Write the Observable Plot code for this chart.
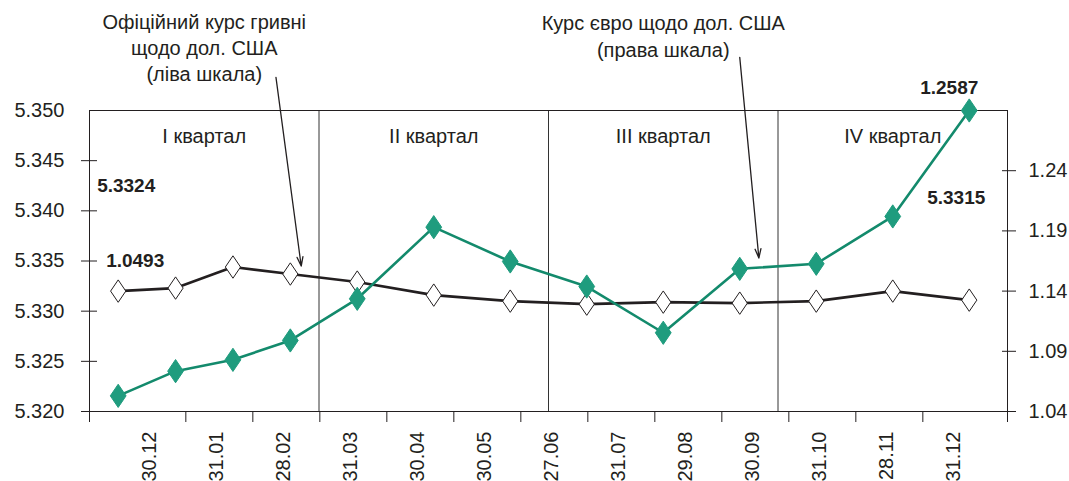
<!DOCTYPE html>
<html><head><meta charset="utf-8">
<script src="https://cdn.jsdelivr.net/npm/d3@7"></script>
<script src="https://cdn.jsdelivr.net/npm/@observablehq/plot@0.6"></script>
<style>
body{margin:0;background:#fff;}
#wrap{position:relative;width:1069px;height:481px;overflow:hidden;}
#wrap svg{position:absolute;left:0;top:0;}
</style></head><body><div id="wrap"></div>
<script>
// ---- data ----
const dates = ["30.12","31.01","28.02","31.03","30.04","30.05","27.06","31.07","29.08","30.09","31.10","28.11","31.12"];
const uahUsd = [5.3320,5.3323,5.3344,5.3337,5.3329,5.3316,5.3310,5.3307,5.3309,5.3308,5.3310,5.3320,5.3311];
const eurUsd = [1.053,1.0735,1.0829,1.099,1.1336,1.1931,1.1646,1.1438,1.1054,1.1585,1.1627,1.202,1.29];
const quarters = ["I квартал","II квартал","III квартал","IV квартал"];
const quarterStart = [0,4,7,10];
const leftTicks = [5.320,5.325,5.330,5.335,5.340,5.345,5.350];
const rightTicks = [1.04,1.09,1.14,1.19,1.24];
const leftDomain = [5.320,5.350];
const rightDomain = [1.04,1.29];
const valueLabels = ["5.3324","1.0493","1.2587","5.3315"];
const annotUah = "Офіційний курс гривні\nщодо дол. США\n(ліва шкала)";
const annotEur = "Курс євро щодо дол. США\n(права шкала)";
const arrowFrom = [[2.75,5.3533],[9.0,5.3553]];
const arrowTo = [[3.19,5.3345],[9.25,5.3353]];

// ---- helpers ----
const toLeft = e => leftDomain[0] + (e - rightDomain[0])*(leftDomain[1]-leftDomain[0])/(rightDomain[1]-rightDomain[0]);
const fromLeft = v => rightDomain[0] + (v - leftDomain[0])*(rightDomain[1]-rightDomain[0])/(leftDomain[1]-leftDomain[0]);
const rows = dates.map((d,i)=>({i, d, uah: uahUsd[i], eur: toLeft(eurUsd[i])}));
const n = dates.length;
const bounds = [...quarterStart.map(s=>s-0.5), n-0.5];
const font = "'Liberation Sans', Arial, Helvetica, sans-serif";
const ink = "#231f20";
const green = "#1f9c7e", greenLine = "#138a6c";
const W = 1069, H = 481, L = 89, R = 1007;

const tallDiamond = {draw(ctx, size){
  const r = Math.sqrt(size/Math.PI), w = r*0.95, h = r*1.4;
  ctx.moveTo(0,-h); ctx.lineTo(w,0); ctx.lineTo(0,h); ctx.lineTo(-w,0); ctx.closePath();
}};

const main = Plot.plot({
  width: W, height: H,
  marginTop: 110, marginBottom: 70, marginLeft: L, marginRight: W - R,
  style: {fontFamily: font, fontSize: "20px", color: ink, background: "white", overflow: "visible"},
  x: {type: "linear", domain: [bounds[0], bounds[1], bounds[4]], range: [L, L + (R-L)/4, R], label: null},
  y: {domain: leftDomain, label: null},
  marks: [
    Plot.ruleX(bounds.slice(1,-1), {stroke: "#333", strokeWidth: 1}),
    Plot.frame({stroke: ink, strokeWidth: 1}),
    Plot.axisX([bounds[0], bounds[4]], {tickSize: 11, tickFormat: () => "", stroke: ink}),
    Plot.axisY(leftTicks.slice(0,-1), {anchor: "left", tickSize: 16, dx: 8, tickFormat: () => "", stroke: ink}),
    Plot.axisY(leftTicks, {anchor: "left", tickSize: 0, tickPadding: 25, tickFormat: d => d.toFixed(3), fontSize: 20, fill: ink}),
    Plot.axisY(rightTicks.map(toLeft), {anchor: "right", tickSize: 14, dx: -6, tickFormat: () => "", stroke: ink}),
    Plot.axisY(rightTicks.map(toLeft), {anchor: "right", tickSize: 0, tickPadding: 21, tickFormat: v => fromLeft(v).toFixed(2), fontSize: 20, fill: ink}),
    Plot.text(quarters, {x: (d,k) => (bounds[k]+bounds[k+1])/2, text: d => d, frameAnchor: "top", dy: 18, fontSize: 20, fill: ink}),
    Plot.line(rows, {x: "i", y: "uah", stroke: ink, strokeWidth: 2.6}),
    Plot.dot(rows, {x: "i", y: "uah", symbol: tallDiamond, r: 8, fill: "white", stroke: ink, strokeWidth: 1}),
    Plot.line(rows, {x: "i", y: "eur", stroke: greenLine, strokeWidth: 2.6}),
    Plot.dot(rows, {x: "i", y: "eur", symbol: tallDiamond, r: 8.3, fill: green, stroke: green, strokeWidth: 1}),
    Plot.text([valueLabels[0]], {x: 0, y: uahUsd[0], text: d => d, dx: 8, dy: -105, fontSize: 19, fontWeight: "bold", fill: ink}),
    Plot.text([valueLabels[1]], {x: 0, y: toLeft(eurUsd[0]), text: d => d, dx: 17, dy: -135, fontSize: 19, fontWeight: "bold", fill: ink}),
    Plot.text([valueLabels[2]], {x: n-1, y: toLeft(eurUsd[n-1]), text: d => d, dx: -20, dy: -23, fontSize: 19, fontWeight: "bold", fill: ink}),
    Plot.text([valueLabels[3]], {x: n-1, y: uahUsd[n-1], text: d => d, dx: -13, dy: -102, fontSize: 19, fontWeight: "bold", fill: ink}),
    Plot.text([annotUah], {x: (bounds[0]+bounds[1])/2, text: d => d, frameAnchor: "top", lineAnchor: "top", dy: -100, lineHeight: 1.3, fontSize: 20, fill: ink}),
    Plot.text([annotEur], {x: (bounds[2]+bounds[3])/2, text: d => d, frameAnchor: "top", lineAnchor: "top", dy: -100, lineHeight: 1.35, fontSize: 20, fill: ink}),
    Plot.arrow(arrowFrom.map((f,k)=>({f, t: arrowTo[k]})), {x1: d=>d.f[0], y1: d=>d.f[1], x2: d=>d.t[0], y2: d=>d.t[1], stroke: ink, strokeWidth: 1.3, headLength: 11, headAngle: 36})
  ]
});

const step = (987 - 115)/(n-1);
const axis = Plot.plot({
  width: W, height: H,
  marginTop: 411, marginBottom: 59, marginLeft: L, marginRight: W - R,
  style: {fontFamily: font, fontSize: "20px", color: ink, background: "transparent", overflow: "visible"},
  x: {type: "point", domain: dates, range: [115, 987], label: null},
  marks: [
    Plot.ruleX(dates.slice(0,-1), {dx: step/2, stroke: ink, strokeWidth: 1}),
    Plot.axisX({tickSize: 0, tickPadding: 9, tickRotate: -90, fontSize: 20, fill: ink})
  ]
});

const wrap = document.getElementById("wrap");
wrap.appendChild(main);
wrap.appendChild(axis);
</script></body></html>
